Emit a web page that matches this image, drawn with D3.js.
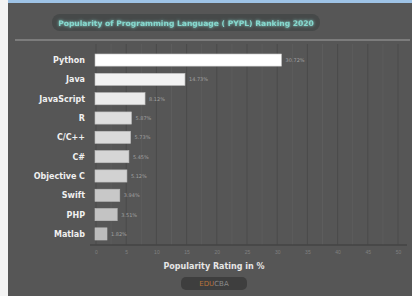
<!DOCTYPE html>
<html>
<head>
<meta charset="utf-8">
<script src="https://cdn.jsdelivr.net/npm/d3@7"></script>
<style>
  body { margin: 0; background: #fff; }
  svg { display: block; font-family: "DejaVu Sans", "Liberation Sans", sans-serif; }
</style>
</head>
<body>
<div id="chart"></div>
<script>
var languages = ["Python", "Java", "JavaScript", "R", "C/C++", "C#", "Objective C", "Swift", "PHP", "Matlab"];
var ratings = [30.72, 14.73, 8.12, 5.87, 5.73, 5.45, 5.12, 3.94, 3.51, 1.82];
var tickValues = [0, 5, 10, 15, 20, 25, 30, 35, 40, 45, 50];
var barColors = ["#ffffff", "#f2f2f2", "#ebebeb", "#dedede", "#dadada", "#d6d6d6", "#d2d2d2", "#c8c8c8", "#c3c3c3", "#bcbcbc"];

var width = 412, height = 296;

var svg = d3.select("#chart").append("svg")
    .attr("width", width)
    .attr("height", height);

// outer frame
svg.append("rect").attr("x", 0).attr("y", 0).attr("width", width).attr("height", height).attr("fill", "#f4f4f4");
svg.append("rect").attr("x", 8).attr("y", 0).attr("width", width - 8).attr("height", 3).attr("fill", "#9ec3e6");
svg.append("rect").attr("x", 8).attr("y", 3).attr("width", width - 8).attr("height", height - 3).attr("fill", "#565656");

// glow for title
var defs = svg.append("defs");
var glow = defs.append("filter").attr("id", "glow").attr("x", "-10%").attr("y", "-50%").attr("width", "120%").attr("height", "200%");
glow.append("feGaussianBlur").attr("stdDeviation", 1.6).attr("result", "b");
var merge = glow.append("feMerge");
merge.append("feMergeNode").attr("in", "b");
merge.append("feMergeNode").attr("in", "SourceGraphic");

svg.append("rect")
    .attr("x", 52).attr("y", 14).attr("width", 268).attr("height", 17)
    .attr("rx", 8)
    .attr("fill", "#464949");

svg.append("text")
    .attr("x", 186).attr("y", 25.5)
    .attr("text-anchor", "middle")
    .style("font-size", "7.6px")
    .style("font-weight", "bold")
    .attr("fill", "#86d8ce")
    .attr("filter", "url(#glow)")
    .text("Popularity of Programming Language ( PYPL) Ranking 2020");

svg.append("line")
    .attr("x1", 15).attr("x2", 410).attr("y1", 40).attr("y2", 40)
    .attr("stroke", "#8a8a8a").attr("stroke-width", 1.5);

// scales
var x = d3.scaleLinear().domain([0, 50]).range([96, 398]);
var y = d3.scaleBand().domain(languages).range([50.5, 243.5]).paddingInner(0.37).paddingOuter(0.18);

// grid
var minorTicks = d3.range(2.5, 50, 5);
svg.append("g").selectAll("line.minor")
    .data(minorTicks)
    .enter().append("line")
    .attr("x1", function(d){ return x(d); })
    .attr("x2", function(d){ return x(d); })
    .attr("y1", 44).attr("y2", 245)
    .attr("stroke", "#5d5d5d").attr("stroke-width", 1);

svg.append("g").selectAll("line.major")
    .data(tickValues)
    .enter().append("line")
    .attr("x1", function(d){ return x(d); })
    .attr("x2", function(d){ return x(d); })
    .attr("y1", 44).attr("y2", 245)
    .attr("stroke", "#4a4a4a").attr("stroke-width", 1);

// x axis
var xAxis = svg.append("g")
    .attr("transform", "translate(0,245)")
    .call(d3.axisBottom(x).tickValues(tickValues).tickSize(0).tickPadding(5).tickFormat(d3.format("d")));
xAxis.select(".domain").attr("stroke", "#444").attr("stroke-width", 1.5).attr("d", "M90,0H407");
xAxis.selectAll("text").attr("fill", "#808080").style("font-size", "5px");

svg.append("text")
    .attr("x", 214).attr("y", 269)
    .attr("text-anchor", "middle")
    .style("font-size", "8px")
    .style("font-weight", "bold")
    .attr("fill", "#e6e6e6")
    .text("Popularity Rating in %");

// bars
var rows = languages.map(function(l, i){ return {lang: l, value: ratings[i], color: barColors[i]}; });

svg.append("g").selectAll("rect")
    .data(rows)
    .enter().append("rect")
    .attr("x", x(0) - 1)
    .attr("y", function(d){ return y(d.lang); })
    .attr("width", function(d){ return x(d.value) - x(0) + 1; })
    .attr("height", y.bandwidth())
    .attr("fill", function(d){ return d.color; })
    .attr("stroke", "#bdbdbd")
    .attr("stroke-width", 0.6);

// category labels
svg.append("g").selectAll("text")
    .data(rows)
    .enter().append("text")
    .attr("x", 85)
    .attr("y", function(d){ return y(d.lang) + y.bandwidth() / 2 + 3; })
    .attr("text-anchor", "end")
    .style("font-size", "8px")
    .style("font-weight", "bold")
    .attr("fill", "#f0f0f0")
    .text(function(d){ return d.lang; });

// value labels
svg.append("g").selectAll("text")
    .data(rows)
    .enter().append("text")
    .attr("x", function(d){ return x(d.value) + 4; })
    .attr("y", function(d){ return y(d.lang) + y.bandwidth() / 2 + 2; })
    .style("font-size", "5px")
    .attr("fill", "#a0a0a0")
    .text(function(d){ return d.value.toFixed(2) + "%"; });

// logo
var logo = svg.append("g");
logo.append("rect")
    .attr("x", 181).attr("y", 277).attr("width", 66).attr("height", 13).attr("rx", 5)
    .attr("fill", "#3e3e3e");
var logoText = logo.append("text")
    .attr("x", 214).attr("y", 286)
    .attr("text-anchor", "middle")
    .style("font-size", "7px");
logoText.append("tspan").attr("fill", "#b9743c").text("EDU");
logoText.append("tspan").attr("fill", "#8a8a8a").text("CBA");
</script>
</body>
</html>
